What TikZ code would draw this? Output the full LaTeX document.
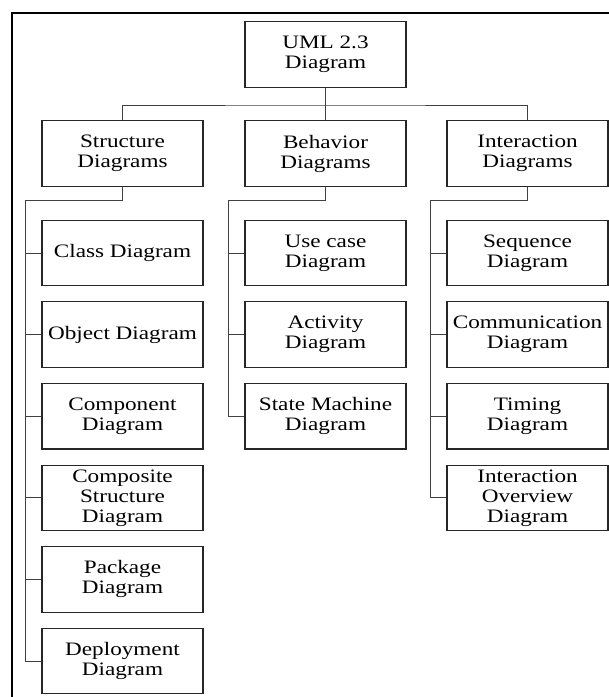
\documentclass[tikz,border=0pt]{standalone}
\usepackage{fontspec}
\setmainfont[FakeStretch=1.22]{Liberation Serif}
\usetikzlibrary{calc}
\begin{document}
\begin{tikzpicture}[x=1pt,y=-1pt,
  box/.style={draw=black!85, line width=1.1pt, minimum width=161pt,
    minimum height=65.5pt, align=center, inner sep=0pt,
    font=\fontsize{19}{20}\selectfont},
  link/.style={draw=black!75, line width=0.9pt},
  frameline/.style={draw=black, line width=2.3pt}]
\useasboundingbox (0,0) rectangle (609,697);
% outer frame (left and top edges)
\draw[frameline] (12,697) -- (12,13) -- (609,13);

% root and the three families
\node[box] (uml) at (325.5,54.5) {UML 2.3\\Diagram};
\node[box] (st)  at (122.5,153.5) {Structure\\Diagrams};
\node[box] (bh)  at (325.5,153.5) {Behavior\\Diagrams};
\node[box] (ia)  at (527.5,153.5) {Interaction\\Diagrams};

% structure diagrams
\node[box] (class)     at (122.5,253)   {Class Diagram};
\node[box] (object)    at (122.5,334.6) {Object Diagram};
\node[box] (component) at (122.5,416.2) {Component\\Diagram};
\node[box] (composite) at (122.5,497.8) {Composite\\Structure\\Diagram};
\node[box] (package)   at (122.5,579.4) {Package\\Diagram};
\node[box] (deploy)    at (122.5,661)   {Deployment\\Diagram};

% behavior diagrams
\node[box] (usecase)  at (325.5,253)   {Use case\\Diagram};
\node[box] (activity) at (325.5,334.6) {Activity\\Diagram};
\node[box] (state)    at (325.5,416.2) {State Machine\\Diagram};

% interaction diagrams
\node[box] (sequence) at (527.5,253)   {Sequence\\Diagram};
\node[box] (comm)     at (527.5,334.6) {Communication\\Diagram};
\node[box] (timing)   at (527.5,416.2) {Timing\\Diagram};
\node[box] (overview) at (527.5,497.8) {Interaction\\Overview\\Diagram};

% root to families
\coordinate (bus) at (325.5,105);
\draw[link] (uml.south) -- (bh.north);
\draw[link] (st.north) |- (bus) -| (ia.north);

% structure branch
\draw[link] (st.south) -- ++(0,13.5) -| ([xshift=-16pt]deploy.west) -- (deploy.west);
\foreach \n in {class,object,component,composite,package}
  \draw[link] ([xshift=-16pt]\n.west) -- (\n.west);

% behavior branch
\draw[link] (bh.south) -- ++(0,13.5) -| ([xshift=-16pt]state.west) -- (state.west);
\foreach \n in {usecase,activity}
  \draw[link] ([xshift=-16pt]\n.west) -- (\n.west);

% interaction branch
\draw[link] (ia.south) -- ++(0,13.5) -| ([xshift=-16pt]overview.west) -- (overview.west);
\foreach \n in {sequence,comm,timing}
  \draw[link] ([xshift=-16pt]\n.west) -- (\n.west);
\end{tikzpicture}
\end{document}
